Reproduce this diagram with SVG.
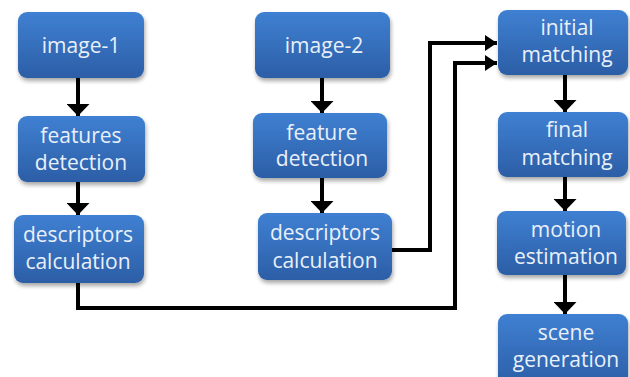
<svg xmlns="http://www.w3.org/2000/svg" width="630" height="377" viewBox="0 0 630 377">
<defs>
<linearGradient id="boxFill" x1="0" y1="0" x2="0" y2="1">
<stop offset="0" stop-color="#3f80d2"/>
<stop offset="1" stop-color="#2c5ea6"/>
</linearGradient>
<filter id="shadow" x="-10%" y="-10%" width="125%" height="130%">
<feGaussianBlur in="SourceAlpha" stdDeviation="2"/>
<feOffset dx="1" dy="3" result="b"/>
<feComponentTransfer><feFuncA type="linear" slope="0.35"/></feComponentTransfer>
<feMerge><feMergeNode/><feMergeNode in="SourceGraphic"/></feMerge>
</filter>
<marker id="arrowV" markerUnits="userSpaceOnUse" markerWidth="12" markerHeight="23" refX="12" refY="11.5" orient="auto">
<path d="M0,0 L12,11.5 L0,23 Z" fill="#000"/>
</marker>
<marker id="arrowH" markerUnits="userSpaceOnUse" markerWidth="12" markerHeight="16" refX="12" refY="8" orient="auto">
<path d="M0,0 L12,8 L0,16 Z" fill="#000"/>
</marker>
</defs>
<style>
.box{fill:url(#boxFill);filter:url(#shadow);}
.lbl{font-family:"Open Sans","Noto Sans","Liberation Sans",sans-serif;font-size:21px;fill:#e9f0fa;text-anchor:middle;}
.conn{fill:none;stroke:#000;stroke-width:4;}
</style>
<rect width="630" height="377" fill="#ffffff"/>
<g id="connectors">
<path class="conn" d="M78,78 V116" marker-end="url(#arrowV)"/>
<path class="conn" d="M78,182 V215" marker-end="url(#arrowV)"/>
<path class="conn" d="M322,78 V113" marker-end="url(#arrowV)"/>
<path class="conn" d="M322,178 V213" marker-end="url(#arrowV)"/>
<path class="conn" d="M565,75 V112" marker-end="url(#arrowV)"/>
<path class="conn" d="M565,177 V211" marker-end="url(#arrowV)"/>
<path class="conn" d="M565,275 V314" marker-end="url(#arrowV)"/>
<path class="conn" d="M392,250 H430 V43 H497" marker-end="url(#arrowH)"/>
<path class="conn" d="M78,283 V308 H455 V63 H497" marker-end="url(#arrowH)"/>
</g>
<g id="image1">
<rect class="box" x="18" y="12" width="126" height="66" rx="9"/>
<text class="lbl" x="81" y="53">image-1</text>
</g>
<g id="features-detection">
<rect class="box" x="18" y="116" width="127" height="66" rx="9"/>
<text class="lbl" x="81" y="143">features</text>
<text class="lbl" x="81" y="170">detection</text>
</g>
<g id="descriptors-1">
<rect class="box" x="14" y="215" width="130" height="68" rx="9"/>
<text class="lbl" x="78" y="242">descriptors</text>
<text class="lbl" x="78" y="269">calculation</text>
</g>
<g id="image2">
<rect class="box" x="255" y="12" width="135" height="66" rx="9"/>
<text class="lbl" x="324" y="53">image-2</text>
</g>
<g id="feature-detection">
<rect class="box" x="253" y="113" width="134" height="65" rx="9"/>
<text class="lbl" x="322" y="140">feature</text>
<text class="lbl" x="322" y="166">detection</text>
</g>
<g id="descriptors-2">
<rect class="box" x="258" y="213" width="134" height="67" rx="9"/>
<text class="lbl" x="325" y="240">descriptors</text>
<text class="lbl" x="325" y="268">calculation</text>
</g>
<g id="initial-matching">
<rect class="box" x="498" y="10" width="130" height="65" rx="9"/>
<text class="lbl" x="567" y="35">initial</text>
<text class="lbl" x="567" y="62">matching</text>
</g>
<g id="final-matching">
<rect class="box" x="498" y="112" width="130" height="65" rx="9"/>
<text class="lbl" x="567" y="137">final</text>
<text class="lbl" x="567" y="165">matching</text>
</g>
<g id="motion-estimation">
<rect class="box" x="497" y="211" width="129" height="64" rx="9"/>
<text class="lbl" x="566" y="237">motion</text>
<text class="lbl" x="566" y="264">estimation</text>
</g>
<g id="scene-generation">
<rect class="box" x="498" y="314" width="130" height="72" rx="9"/>
<text class="lbl" x="566" y="340">scene</text>
<text class="lbl" x="566" y="367">generation</text>
</g>
</svg>
